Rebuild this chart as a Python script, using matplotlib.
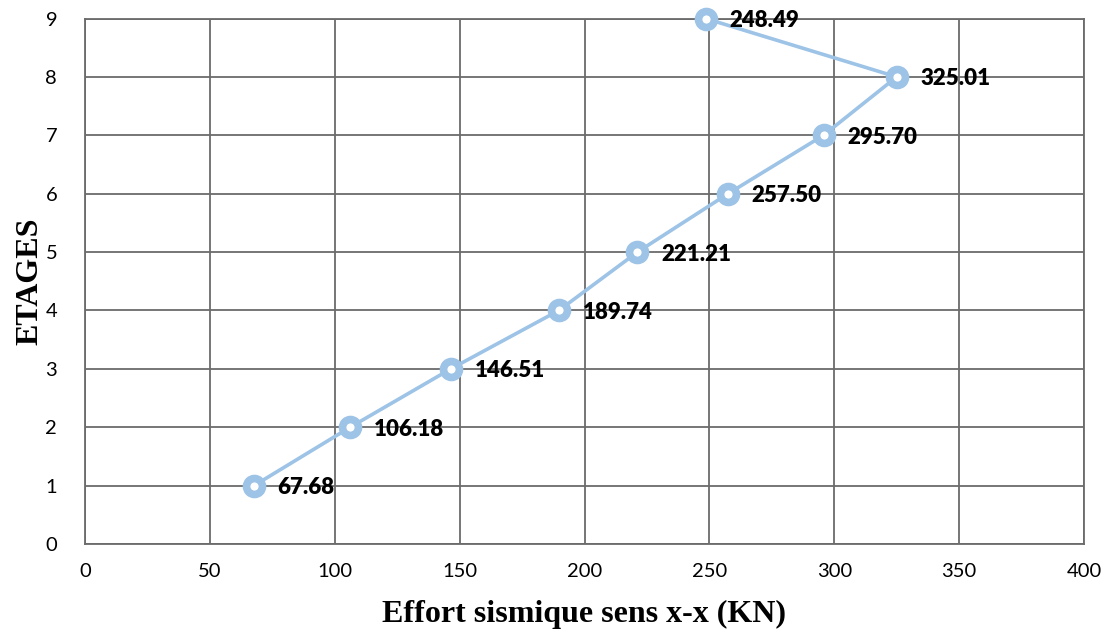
import matplotlib
matplotlib.use("Agg")
import matplotlib.pyplot as plt

# Seismic storey shear per floor, direction x-x
efforts = [67.68, 106.18, 146.51, 189.74, 221.21, 257.50, 295.70, 325.01, 248.49]
etages = [1, 2, 3, 4, 5, 6, 7, 8, 9]
x_ticks = [0, 50, 100, 150, 200, 250, 300, 350, 400]
y_ticks = [0, 1, 2, 3, 4, 5, 6, 7, 8, 9]

line_color = "#9DC3E6"
grid_color = "#6b6b6b"

fig = plt.figure(figsize=(11.08, 6.37), dpi=100)
ax = fig.add_axes([85 / 1108, 1 - 544 / 637, 999 / 1108, 525.5 / 637])

ax.plot(efforts, etages, color=line_color, linewidth=2.6, marker="o",
        markersize=11.5, markeredgewidth=5.5, markeredgecolor=line_color,
        markerfacecolor="white", zorder=3, clip_on=False)

for xv, yv in zip(efforts, etages):
    ax.annotate(f"{xv:.2f}", (xv, yv), xytext=(17, -1.5), textcoords="offset points",
                ha="left", va="center", fontsize=16, fontweight="heavy",
                family="Lato", color="black", zorder=4)

ax.set_xlim(0, 400)
ax.set_ylim(0, 9)
ax.set_xticks(x_ticks)
ax.set_yticks(y_ticks)
ax.tick_params(length=0, labelsize=14.5, pad=14, colors="black")
for lab in ax.get_xticklabels() + ax.get_yticklabels():
    lab.set_family("Lato")
ax.tick_params(axis="y", pad=20)

ax.grid(True, color=grid_color, linewidth=1.3)
ax.set_axisbelow(True)
for s in ax.spines.values():
    s.set_color(grid_color)
    s.set_linewidth(1.3)

ax.set_xlabel("Effort sismique sens x-x (KN)", family="Liberation Serif",
              fontsize=23, fontweight="bold", labelpad=14)
ax.set_ylabel("ETAGES", family="Liberation Serif", fontsize=23,
              fontweight="bold", labelpad=1)

fig.savefig("out.png", dpi=100)
